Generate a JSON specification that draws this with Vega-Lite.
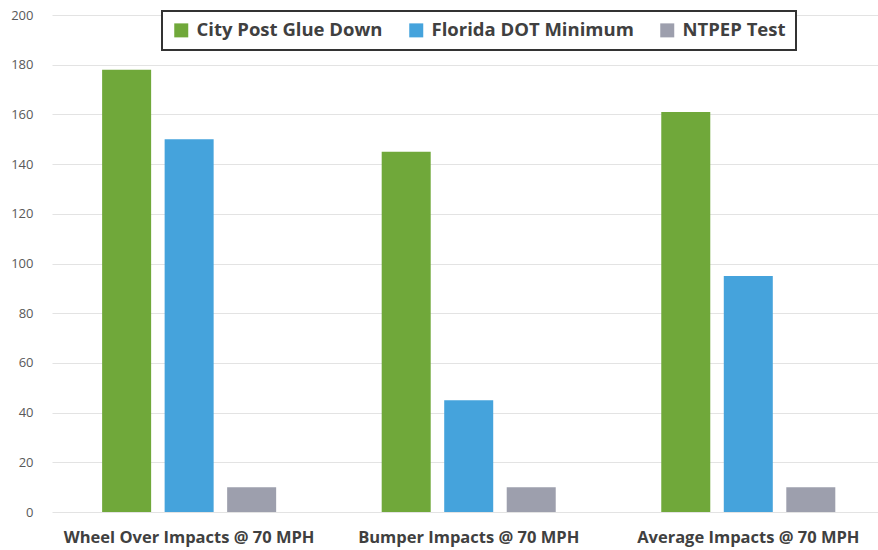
{
  "$schema": "https://vega.github.io/schema/vega-lite/v6.json",
  "width": 826,
  "height": 497,
  "autosize": {"type": "none"},
  "padding": {"left": 52, "top": 15, "right": 0, "bottom": 38},
  "background": "white",
  "data": {
    "values": [
      {"category": "Wheel Over Impacts @ 70 MPH", "series": "City Post Glue Down", "value": 178},
      {"category": "Wheel Over Impacts @ 70 MPH", "series": "Florida DOT Minimum", "value": 150},
      {"category": "Wheel Over Impacts @ 70 MPH", "series": "NTPEP Test", "value": 10},
      {"category": "Bumper Impacts @ 70 MPH", "series": "City Post Glue Down", "value": 145},
      {"category": "Bumper Impacts @ 70 MPH", "series": "Florida DOT Minimum", "value": 45},
      {"category": "Bumper Impacts @ 70 MPH", "series": "NTPEP Test", "value": 10},
      {"category": "Average Impacts @ 70 MPH", "series": "City Post Glue Down", "value": 161},
      {"category": "Average Impacts @ 70 MPH", "series": "Florida DOT Minimum", "value": 95},
      {"category": "Average Impacts @ 70 MPH", "series": "NTPEP Test", "value": 10}
    ]
  },
  "mark": {"type": "bar"},
  "encoding": {
    "x": {
      "field": "category",
      "type": "nominal",
      "sort": ["Wheel Over Impacts @ 70 MPH", "Bumper Impacts @ 70 MPH", "Average Impacts @ 70 MPH"],
      "scale": {"paddingInner": 0.3775, "paddingOuter": 0.166, "align": 0.54},
      "axis": {
        "title": null,
        "labelAngle": 0,
        "domain": false,
        "ticks": false,
        "labelPadding": 17,
        "labelLimit": 0,
        "labelFont": "Open Sans",
        "labelFontSize": 16.5,
        "labelFontWeight": 700,
        "labelColor": "#404040"
      }
    },
    "xOffset": {
      "field": "series",
      "type": "nominal",
      "sort": ["City Post Glue Down", "Florida DOT Minimum", "NTPEP Test"],
      "scale": {"paddingInner": 0.216, "paddingOuter": 0}
    },
    "y": {
      "field": "value",
      "type": "quantitative",
      "scale": {"domain": [0, 200], "nice": false},
      "axis": {
        "title": null,
        "values": [0, 20, 40, 60, 80, 100, 120, 140, 160, 180, 200],
        "domain": false,
        "ticks": false,
        "labelPadding": 19,
        "labelFont": "Open Sans",
        "labelFontSize": 13,
        "labelColor": "#595959",
        "gridColor": "#E3E3E3",
        "gridWidth": 1
      }
    },
    "color": {
      "field": "series",
      "type": "nominal",
      "sort": ["City Post Glue Down", "Florida DOT Minimum", "NTPEP Test"],
      "scale": {
        "domain": ["City Post Glue Down", "Florida DOT Minimum", "NTPEP Test"],
        "range": ["#70A83A", "#45A3DC", "#9D9FAD"]
      },
      "legend": {
        "title": null,
        "orient": "none",
        "legendX": 110,
        "legendY": -4,
        "direction": "horizontal",
        "symbolType": "square",
        "symbolSize": 196,
        "symbolStrokeWidth": 0,
        "labelFont": "Open Sans",
        "labelFontSize": 18.5,
        "labelFontWeight": 700,
        "labelColor": "#404040",
        "labelLimit": 0,
        "labelOffset": 6,
        "columnPadding": 24,
        "padding": 10,
        "strokeColor": "#333333",
        "fillColor": "white"
      }
    }
  },
  "config": {
    "view": {"stroke": null},
    "legend": {"strokeWidth": 2}
  }
}
